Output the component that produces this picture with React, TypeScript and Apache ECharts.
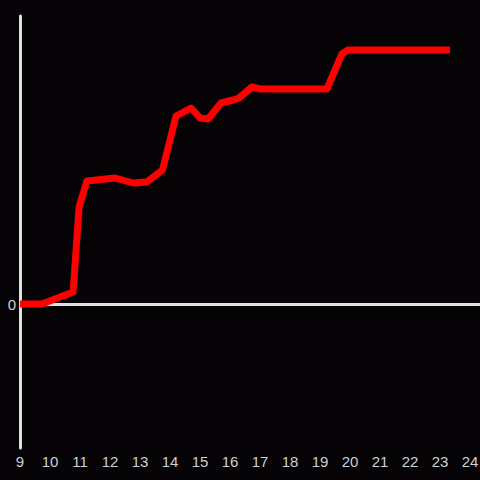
import React, { useEffect, useRef } from "react";
import * as echarts from "echarts";

const xValues = [9, 9.73, 10.77, 10.97, 11.23, 12.17, 12.77, 13.23, 13.75, 14.2, 14.7, 15.0, 15.27, 15.7, 16.1, 16.3, 16.73, 17.0, 19.23, 19.73, 19.93, 23.33];
const yValues = [0, 0, 12, 97, 123, 126, 121, 122, 134, 188, 196, 186, 185, 201, 204, 206, 217, 215, 215, 250, 254, 254];
const xTicks = [9, 10, 11, 12, 13, 14, 15, 16, 17, 18, 19, 20, 21, 22, 23, 24];

export default function App() {
  const ref = useRef<HTMLDivElement>(null);
  useEffect(() => {
    if (!ref.current) return;
    const chart = echarts.init(ref.current, null, { renderer: "svg" });
    chart.setOption({
      animation: false,
      backgroundColor: "#050306",
      grid: { left: 20, right: 0, top: 16, bottom: 32, containLabel: false, outerBoundsMode: "none" },
      xAxis: {
        type: "value",
        min: 9,
        max: 24.333,
        interval: 1,
        axisLine: { show: false, onZero: false },
        axisTick: { show: false },
        splitLine: { show: false },
        axisLabel: {
          color: "#d0d0d0",
          fontSize: 15,
          fontFamily: "Liberation Sans",
          margin: 6,
          hideOverlap: false,
          formatter: (v: number) => (xTicks.includes(v) ? String(v) : ""),
        },
      },
      yAxis: {
        type: "value",
        min: -144,
        max: 288,
        interval: 144,
        axisLine: { show: true, onZero: false, lineStyle: { color: "#e0e0e0", width: 3 } },
        axisTick: { show: false },
        splitLine: { show: false },
        axisLabel: {
          color: "#d0d0d0",
          fontSize: 15,
          fontFamily: "Liberation Sans",
          margin: 4,
          formatter: (v: number) => (v === 0 ? "0" : ""),
        },
      },
      series: [
        {
          type: "line",
          data: xValues.map((x, i) => [x, yValues[i]]),
          showSymbol: false,
          symbol: "none",
          lineStyle: { color: "#ff0000", width: 7, join: "round" },
          z: 3,
          markLine: {
            silent: true,
            symbol: "none",
            label: { show: false },
            lineStyle: { color: "#e0e0e0", width: 3, type: "solid" },
            data: [{ yAxis: 0 }],
            z: 2,
          },
        },
      ],
    });
    return () => chart.dispose();
  }, []);
  return <div ref={ref} style={{ width: 480, height: 480, position: "fixed", left: 0, top: 0 }} />;
}
